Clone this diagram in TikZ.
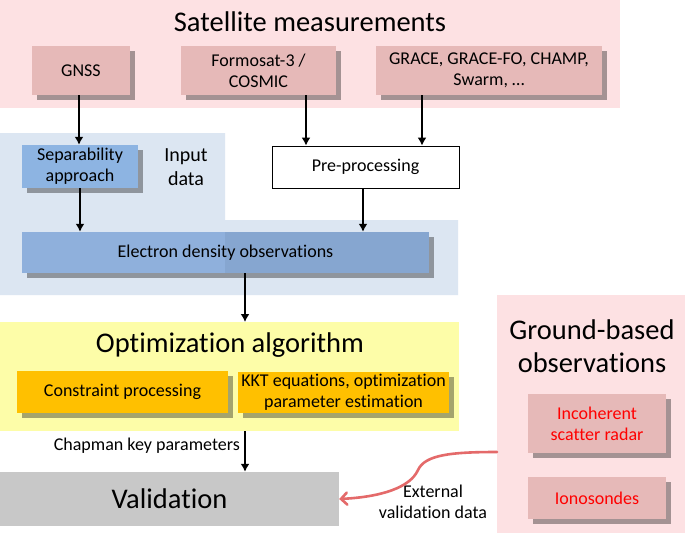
\documentclass[tikz,border=0pt]{standalone}
\usepackage{fontspec}
\setmainfont{Carlito}[Ligatures=NoCommon]
\usetikzlibrary{shadows,arrows.meta}
\definecolor{satbg}{HTML}{FDE1E3}
\definecolor{satbox}{HTML}{E6B9B8}
\definecolor{inbg}{HTML}{DCE6F2}
\definecolor{sepbox}{HTML}{8DB4E2}
\definecolor{edoL}{HTML}{8FB0DC}
\definecolor{edoR}{HTML}{86A6D0}
\definecolor{optbg}{HTML}{FDFDA8}
\definecolor{optbox}{HTML}{FFC000}
\definecolor{valbox}{HTML}{C8C8C8}
\definecolor{redtxt}{HTML}{FF0000}
\definecolor{redarr}{HTML}{E46A6A}
\tikzset{
  shad/.style={drop shadow={shadow xshift=5pt,shadow yshift=-5pt,fill=black,opacity=.35}},
  boxtxt/.style={font=\fontsize{18}{21}\selectfont, align=center, inner sep=0pt},
  satbx/.style={boxtxt, fill=satbox, shad},
  bigtxt/.style={font=\fontsize{28.5}{33}\selectfont, align=center, inner sep=0pt},
  arr/.style={line width=2.6pt, -{Latex[length=8pt,width=9pt]}},
}
\begin{document}
\begin{tikzpicture}[x=1pt,y=-1pt]
\useasboundingbox (0,0) rectangle (685,533);
\fill[white] (0,0) rectangle (685,533);
% backgrounds
\fill[satbg] (0,0) rectangle (620,108);
\fill[inbg] (0,133) -- (225,133) -- (225,220) -- (458,220) -- (458,295) -- (0,295) -- cycle;
\fill[optbg] (0,322) rectangle (459,431);
\fill[satbg] (497,295) rectangle (685,533);
\coordinate (opttop) at (245,322);
\coordinate (optbot) at (245,431);
% satellite
\node[bigtxt] (sattitle) at (310,22) {Satellite measurements};
\node[satbx, minimum width=98pt, minimum height=49pt] (gnss) at (81,70.5) {GNSS};
\node[satbx, minimum width=155pt, minimum height=49pt] (formo) at (258.5,70.5) {Formosat-3 /\\COSMIC};
\node[satbx, minimum width=226pt, minimum height=49pt] (grace) at (489,70.5) {GRACE, GRACE-FO, CHAMP,\\Swarm, \dots};
% input
\node[boxtxt, fill=sepbox, shad, minimum width=116pt, minimum height=43pt] (sep) at (80,166.5) {Separability\\approach};
\node[boxtxt, font=\fontsize{20}{24}\selectfont] (indata) at (186,167) {Input\\data};
\node[boxtxt, fill=white, draw=black, line width=0.8pt, minimum width=187pt, minimum height=42pt] (pre) at (365.5,167) {Pre-processing};
\fill[edoR, shad] (22,232) rectangle (429,273);
\fill[edoL] (22,232) rectangle (225,273);
\node[boxtxt, minimum width=407pt, minimum height=41pt] (edo) at (225.5,252.5) {Electron density observations};
% optimization
\node[bigtxt] (opttitle) at (230,345) {Optimization algorithm};
\node[boxtxt, fill=optbox, shad, minimum width=211pt, minimum height=42pt] (cons) at (122.5,392) {Constraint processing};
\node[boxtxt, fill=optbox, shad, minimum width=211pt, minimum height=41pt] (kkt) at (343.5,392.5) {KKT equations, optimization\\parameter estimation};
% validation
\node[bigtxt, fill=valbox, minimum width=339pt, minimum height=54pt] (val) at (169.5,499) {Validation};
\node[boxtxt, anchor=east] (chap) at (240,446) {Chapman key parameters};
\node[boxtxt] (ext) at (433,502) {External\\validation data};
% ground-based
\node[bigtxt, font=\fontsize{28.5}{33}\selectfont] (gtitle) at (592,346) {Ground-based\\observations};
\node[boxtxt, fill=satbox, shad, text=redtxt, minimum width=138pt, minimum height=59pt] (isr) at (597,423.5) {Incoherent\\scatter radar};
\node[boxtxt, fill=satbox, shad, text=redtxt, minimum width=138pt, minimum height=42pt] (iono) at (597,498) {Ionosondes};
% arrows
\draw[arr] (gnss.south -| 79,0) -- (sep.north -| 79,0);
\draw[arr] (formo.south -| 306,0) -- (pre.north -| 306,0);
\draw[arr] (grace.south -| 422,0) -- (pre.north -| 422,0);
\draw[arr] (sep.south -| 80,0) -- (edo.north -| 80,0);
\draw[arr] (pre.south -| 363,0) -- (edo.north -| 363,0);
\draw[arr] (edo.south -| opttop) -- (opttop);
\draw[arr] (optbot) -- (val.north -| optbot);
\coordinate (gstart) at (497,452);
\draw[line width=2.6pt, redarr, line cap=round, -{Straight Barb[length=6pt,width=12pt,line cap=round]}] (gstart) .. controls (450,452) and (425,455) .. (418,470) .. controls (410,488) and (380,497) .. (val.east);
\end{tikzpicture}
\end{document}
